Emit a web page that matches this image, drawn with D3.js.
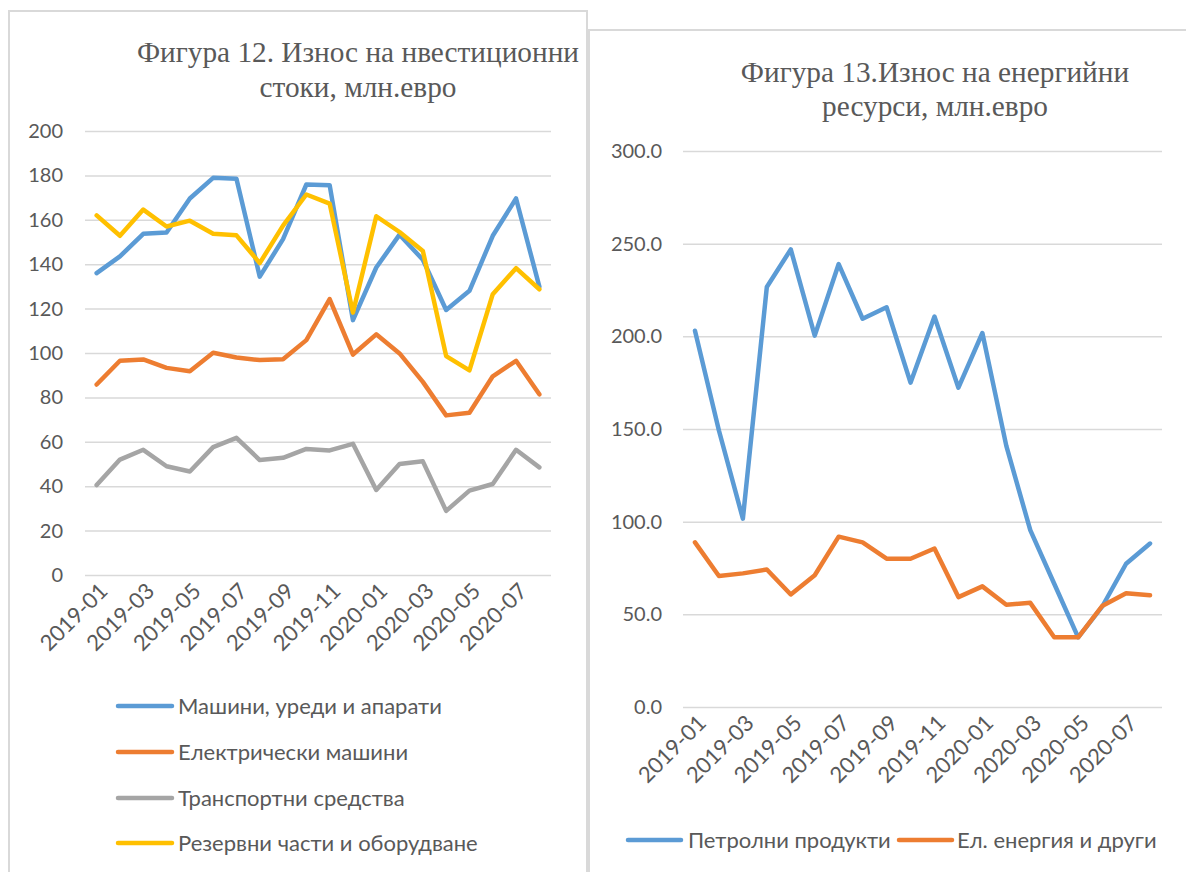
<!DOCTYPE html>
<html>
<head>
<meta charset="utf-8">
<script src="https://cdn.jsdelivr.net/npm/d3@7"></script>
<style>
  body { margin: 0; background: #ffffff; }
  svg { display: block; }
  .lbl { font-family: Lato, "Noto Sans", sans-serif; fill: #595959; }
  .ttl { font-family: "Liberation Serif", "Times New Roman", serif; fill: #595959; }
</style>
</head>
<body>
<svg id="chart" width="1186" height="872"></svg>
<script>
// ---------- data ----------
const months = ["2019-01","2019-02","2019-03","2019-04","2019-05","2019-06","2019-07","2019-08","2019-09","2019-10","2019-11","2019-12",
                "2020-01","2020-02","2020-03","2020-04","2020-05","2020-06","2020-07","2020-08"];
const monthTickLabels = ["2019-01","2019-03","2019-05","2019-07","2019-09","2019-11","2020-01","2020-03","2020-05","2020-07"];

// Figure 12 (investment goods)
const machines   = [136, 143.5, 153.7, 154.3, 169.6, 178.9, 178.5, 134.4, 151.3, 175.9, 175.6, 114.8, 138.5, 153.3, 142, 119.4, 128, 152.8, 169.6, 129.9];
const electrical = [85.8, 96.5, 97.1, 93.3, 91.8, 100.1, 98, 96.8, 97.2, 105.8, 124.3, 99.3, 108.4, 99.8, 87, 71.9, 73.1, 89.5, 96.5, 81.4];
const transport  = [40.5, 52, 56.4, 49, 46.6, 57.6, 61.8, 51.8, 52.8, 56.8, 56.1, 59.1, 38.3, 50, 51.2, 28.9, 38, 41, 56.4, 48.5];
const spareParts = [162, 152.8, 164.6, 157, 159.6, 153.7, 153, 140.5, 157.4, 171.4, 167.3, 118.2, 161.6, 154.5, 146, 98.6, 92.2, 126.5, 138.2, 128.7];
const leftSeriesNames = ["Машини, уреди и апарати", "Електрически машини", "Транспортни средства", "Резервни части и оборудване"];
const leftTicks = [0, 20, 40, 60, 80, 100, 120, 140, 160, 180, 200];
const leftTitle = ["Фигура 12. Износ на нвестиционни", "стоки, млн.евро"];

// Figure 13 (energy resources)
const petroleum   = [203, 149.2, 101.6, 226.6, 246.9, 200.4, 239, 209.5, 215.7, 175, 210.7, 172.3, 201.8, 140.9, 95.4, 66.5, 37.6, 54.1, 77.3, 88.2];
const electricity = [88.8, 70.7, 72.1, 74.2, 60.7, 71.1, 91.9, 88.8, 80, 80, 85.5, 59.3, 65.1, 55.2, 56.2, 37.6, 37.6, 54.5, 61.4, 60.3];
const rightSeriesNames = ["Петролни продукти", "Ел. енергия и други"];
const rightTicks = [0, 50, 100, 150, 200, 250, 300];
const rightTitle = ["Фигура 13.Износ на енергийни", "ресурси, млн.евро"];

const colors = ["#5B9BD5", "#ED7D31", "#A5A5A5", "#FFC000"];

// ---------- drawing ----------
const svg = d3.select("#chart");
svg.append("rect").attr("width", 1186).attr("height", 872).attr("fill", "#fff");

function panel(opts) {
  const g = svg.append("g");
  // border
  g.append("rect").attr("x", opts.box[0]).attr("y", opts.box[1])
    .attr("width", opts.box[2]).attr("height", opts.box[3])
    .attr("fill", "#fff").attr("stroke", "#d9d9d9").attr("stroke-width", 2);

  // title
  const t = g.append("text").attr("class", "ttl").attr("text-anchor", "middle")
    .attr("font-size", opts.titleSize);
  opts.title.forEach((line, i) => {
    t.append("tspan").attr("x", opts.titleX).attr("y", opts.titleY + i * opts.titleGap).text(line);
  });

  const x = d3.scaleBand().domain(months).range([opts.x0, opts.x1]);
  const y = d3.scaleLinear().domain(opts.domain).range([opts.y0, opts.y1]);
  const cx = m => x(m) + x.bandwidth() / 2;

  // y axis + gridlines
  const ya = g.append("g").attr("transform", `translate(${opts.x0},0)`)
    .call(d3.axisLeft(y).tickValues(opts.ticks).tickFormat(opts.fmt)
      .tickSize(-(opts.x1 - opts.x0)).tickPadding(opts.x0 - opts.labelRight));
  ya.select(".domain").remove();
  ya.selectAll("line").attr("stroke", "#d9d9d9").attr("stroke-width", 1.5);
  ya.selectAll("text").attr("class", "lbl").attr("font-size", opts.yFont)
    .attr("fill", "#595959");

  // x axis labels
  const xa = g.append("g").attr("transform", `translate(0,${opts.y0})`)
    .call(d3.axisBottom(x).tickValues(monthTickLabels).tickSize(0));
  xa.select(".domain").remove();
  xa.selectAll("text").attr("class", "lbl").attr("font-size", opts.xFont)
    .attr("fill", "#595959")
    .attr("x", 0).attr("y", 0).attr("dy", "0.35em")
    .attr("text-anchor", "end")
    .attr("transform", `translate(${opts.xlDx},${opts.xlDy}) rotate(-45)`);

  // lines
  const line = d3.line().x((d, i) => cx(months[i])).y(d => y(d));
  opts.series.forEach((s, i) => {
    g.append("path").datum(s).attr("fill", "none")
      .attr("stroke", colors[opts.colorIdx[i]]).attr("stroke-width", 4.5)
      .attr("stroke-linejoin", "round").attr("stroke-linecap", "round")
      .attr("d", line);
  });

  // legend
  opts.names.forEach((n, i) => {
    const [lx, ly, tx] = opts.legend[i];
    g.append("line").attr("x1", lx).attr("x2", lx + opts.legLen).attr("y1", ly).attr("y2", ly)
      .attr("stroke", colors[opts.colorIdx[i]]).attr("stroke-width", 4.5).attr("stroke-linecap", "round");
    g.append("text").attr("class", "lbl").attr("font-size", opts.legFont)
      .attr("x", tx).attr("y", ly).attr("dy", "0.35em").text(n);
  });
}

panel({
  box: [9, 11, 578, 900],
  title: leftTitle, titleX: 358, titleY: 62, titleGap: 35, titleSize: 29.3,
  x0: 85, x1: 551, y0: 575, y1: 131, domain: [0, 200],
  ticks: leftTicks, fmt: d3.format("d"), labelRight: 63, yFont: 20, xFont: 22,
  xlDx: 7, xlDy: 12,
  series: [machines, electrical, transport, spareParts], colorIdx: [0, 1, 2, 3],
  names: leftSeriesNames, legLen: 54, legFont: 22,
  legend: [[118, 706, 178], [118, 752, 178], [118, 798, 178], [118, 843, 178]]
});

panel({
  box: [589, 30, 700, 900],
  title: rightTitle, titleX: 935, titleY: 82, titleGap: 34, titleSize: 29.3,
  x0: 683, x1: 1162, y0: 707, y1: 151, domain: [0, 300],
  ticks: rightTicks, fmt: d3.format(".1f"), labelRight: 662, yFont: 20, xFont: 22,
  xlDx: 7, xlDy: 12,
  series: [petroleum, electricity], colorIdx: [0, 1],
  names: rightSeriesNames, legLen: 53, legFont: 22,
  legend: [[628, 840, 688], [899, 840, 957]]
});
</script>
</body>
</html>
